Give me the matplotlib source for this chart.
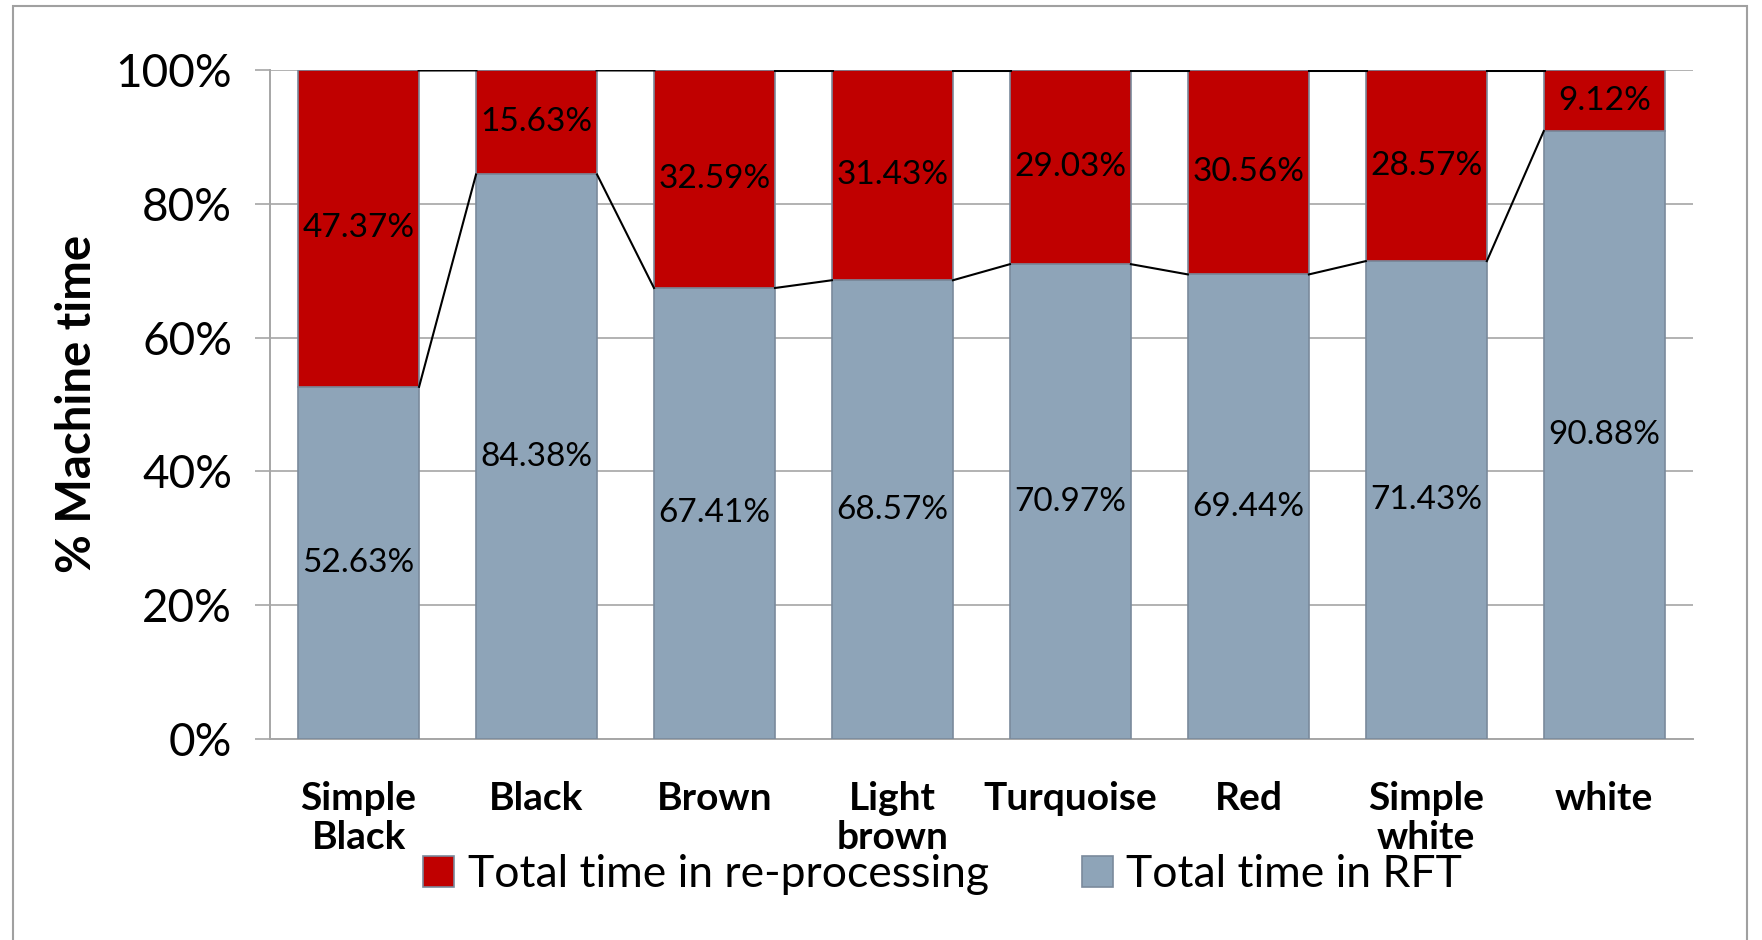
import matplotlib
matplotlib.use("Agg")
import matplotlib.pyplot as plt
from matplotlib.patches import Rectangle
from matplotlib.ticker import FuncFormatter, MultipleLocator

plt.rcParams['font.family'] = ['Lato', 'DejaVu Sans']

categories = ["Simple\nBlack", "Black", "Brown", "Light\nbrown", "Turquoise", "Red", "Simple\nwhite", "white"]
rft = [52.63, 84.38, 67.41, 68.57, 70.97, 69.44, 71.43, 90.88]
reproc = [47.37, 15.63, 32.59, 31.43, 29.03, 30.56, 28.57, 9.12]
series_names = ["Total time in re-processing", "Total time in RFT"]

RED = "#C00000"
GRAY = "#8EA4B8"
EDGE = "#7A8A9C"
GRID = "#A6A6A6"

fig = plt.figure(figsize=(17.62, 9.40), dpi=100)
ax = fig.add_axes([0.153, 0.214, 0.808, 0.7115])

n = len(categories)
x = list(range(n))
w = 0.68

b_rft = ax.bar(x, rft, width=w, color=GRAY, edgecolor=EDGE, linewidth=1.2, zorder=3,
               label=series_names[1])
b_rep = ax.bar(x, reproc, width=w, bottom=rft, color=RED, edgecolor=EDGE, linewidth=1.2,
               zorder=3, label=series_names[0])

# series lines
for i in range(n - 1):
    ax.plot([i + w / 2, i + 1 - w / 2], [rft[i], rft[i + 1]], color="black", lw=1.5, zorder=4)
    ax.plot([i + w / 2, i + 1 - w / 2], [rft[i] + reproc[i], rft[i + 1] + reproc[i + 1]],
            color="black", lw=2.2, zorder=4)

for i in range(n):
    ax.text(i, rft[i] / 2, f"{rft[i]:.2f}%", ha="center", va="center", fontsize=24, zorder=5)
    ax.text(i, rft[i] + reproc[i] / 2, f"{reproc[i]:.2f}%", ha="center", va="center",
            fontsize=24, zorder=5)

ax.set_xlim(-0.5, n - 0.5)
ax.set_ylim(0, 100)
ax.yaxis.set_major_locator(MultipleLocator(20))
ax.yaxis.set_major_formatter(FuncFormatter(lambda v, p: f"{int(v)}%"))
ax.yaxis.grid(True, color=GRID, lw=1.2, zorder=0)
ax.set_axisbelow(True)

for s in ["top", "right"]:
    ax.spines[s].set_visible(False)
for s in ["left", "bottom"]:
    ax.spines[s].set_color(GRID)
    ax.spines[s].set_linewidth(1.4)

ax.tick_params(axis="y", length=11, width=1.2, color=GRID, labelsize=33, pad=16)
ax.tick_params(axis="x", length=0, labelsize=28, pad=30)
ax.set_xticks(x)
ax.set_xticklabels(categories, fontweight="bold", linespacing=1.15, va="top")
ax.set_ylabel("% Machine time", fontsize=34, fontweight="bold", labelpad=12)

handles = [b_rep, b_rft]
leg = fig.legend(handles, series_names, loc="center", bbox_to_anchor=(0.535, 0.07), ncol=2,
                 frameon=False, fontsize=32, handlelength=0.7, handleheight=0.7,
                 handletextpad=0.3, columnspacing=2.1)

# outer border
fig.patches.append(Rectangle((13 / 1762, -0.05), (1747 - 13) / 1762, 1.05 - 6 / 940,
                             transform=fig.transFigure, fill=False, edgecolor="#A0A0A0",
                             lw=1.5, zorder=0))

fig.savefig("out.png", dpi=100)
